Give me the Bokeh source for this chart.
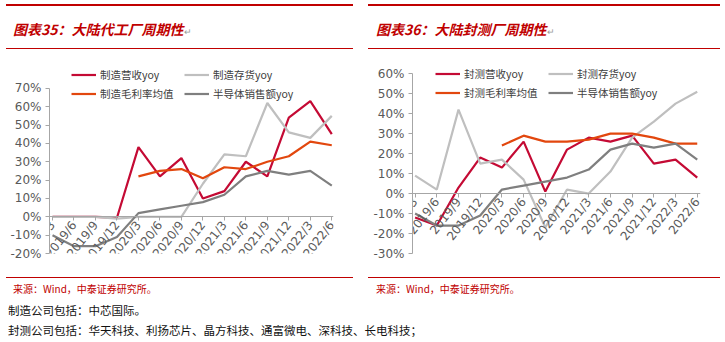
import math
from bokeh.plotting import figure
from bokeh.models import (Range1d, FixedTicker, PrintfTickFormatter, Legend,
                          LegendItem, Div, ColumnDataSource)
from bokeh.layouts import column, row
from bokeh.embed import file_html
from bokeh.resources import INLINE

NAN = float("nan")

quarters = ["2019/3", "2019/6", "2019/9", "2019/12", "2020/3", "2020/6", "2020/9",
            "2020/12", "2021/3", "2021/6", "2021/9", "2021/12", "2022/3", "2022/6"]

# 图表35 大陆代工厂 (%)
fab_rev = [0, 0, 0, -0.5, 38, 22, 32, 10, 14, 30, 22, 54, 63, 45]
fab_inv = [0, 0, 0, -1, 0, 0, 0, 18, 34, 33, 62, 46, 43, 55]
fab_gm = [NAN, NAN, NAN, NAN, 22, 25, 26, 21, 27, 26, 30, 33, 41, 39]
semi_sales = [-10, -16, -16, -11, 2, 4, 6, 8, 12, 22, 25, 23, 25, 17]

# 图表36 大陆封测厂 (%)
osat_rev = [-12, -16, 3, 18, 13, 26, 1, 22, 28, 26, 29, 15, 17, 8]
osat_inv = [9, 2, 42, 15, 17, 7, -17, 2, 0, 11, 28, 36, 45, 51]
osat_gm = [NAN, NAN, NAN, NAN, 24, 29, 26, 26, 27, 30, 30, 28, 25, 25]

fab_labels = ["制造营收yoy", "制造存货yoy", "制造毛利率均值", "半导体销售额yoy"]
osat_labels = ["封测营收yoy", "封测存货yoy", "封测毛利率均值", "半导体销售额yoy"]

left_yticks = [-20, -10, 0, 10, 20, 30, 40, 50, 60, 70]
right_yticks = [-30, -20, -10, 0, 10, 20, 30, 40, 50, 60]

titles = ["图表35：大陆代工厂周期性", "图表36：大陆封测厂周期性"]
source_text = "来源：Wind，中泰证券研究所。"
note1 = "制造公司包括：中芯国际。"
note2 = "封测公司包括：华天科技、利扬芯片、晶方科技、通富微电、深科技、长电科技；"

COLORS = ["#C40A34", "#BFBFBF", "#E2470E", "#7F7F7F"]
AXIS_C = "#A6A6A6"
LABEL_C = "#595959"


def make_chart(width, height, borders, xr, yr, yticks, series, labels, legend_loc):
    bl, bt, br, bb = borders
    p = figure(width=width, height=height, output_backend="svg", toolbar_location=None,
               x_range=Range1d(*xr), y_range=Range1d(*yr),
               min_border_left=bl, min_border_top=bt, min_border_right=br,
               min_border_bottom=bb)
    p.outline_line_color = None
    p.grid.visible = False
    p.background_fill_color = None
    p.border_fill_color = None

    x = list(range(len(quarters)))
    data = {"x": x}
    for i, s in enumerate(series):
        data[f"s{i}"] = s
    src = ColumnDataSource(data)
    rends = []
    for i in range(len(series)):
        r = p.line("x", f"s{i}", source=src, line_color=COLORS[i], line_width=2.2)
        rends.append(r)

    ya = p.yaxis[0]
    ya.ticker = FixedTicker(ticks=yticks)
    ya.bounds = (yticks[0], yticks[-1])
    ya.formatter = PrintfTickFormatter(format="%d%%")
    ya.major_label_text_font = "DejaVu Sans"
    ya.major_label_text_font_size = "12px"
    ya.major_label_text_color = LABEL_C
    ya.axis_line_color = AXIS_C
    ya.major_tick_line_color = AXIS_C
    ya.major_tick_out = 4
    ya.major_tick_in = 0
    ya.minor_tick_out = 0
    ya.minor_tick_in = 0
    ya.major_label_standoff = 4

    xa = p.xaxis[0]
    xa.ticker = FixedTicker(ticks=x)
    xa.major_label_overrides = {i: q for i, q in enumerate(quarters)}
    xa.fixed_location = 0
    xa.major_label_orientation = math.radians(52)
    xa.major_label_text_font = "DejaVu Sans"
    xa.major_label_text_font_size = "12px"
    xa.major_label_text_color = LABEL_C
    xa.axis_line_color = AXIS_C
    xa.major_tick_line_color = AXIS_C
    xa.major_tick_out = 4
    xa.major_tick_in = 0
    xa.minor_tick_out = 0
    xa.minor_tick_in = 0
    xa.major_label_standoff = 2

    # legend is filled column by column: (0,2) top row, (1,3) bottom row
    order = [0, 2, 1, 3]
    items = [LegendItem(label=labels[i], renderers=[rends[i]]) for i in order]
    legend = Legend(items=items, location=legend_loc, ncols=2,
                    glyph_width=25, glyph_height=19, label_standoff=4,
                    label_width=84, label_height=19, spacing=0, padding=0, margin=0,
                    border_line_color=None, background_fill_alpha=0,
                    label_text_font="Noto Sans CJK SC", label_text_font_size="10.5px",
                    label_text_color="#404040")
    p.add_layout(legend)
    return p


left = make_chart(362, 222, (49, 10, 29, 24), (-0.14, 13.08), (-20, 81.9), left_yticks,
                  [fab_rev, fab_inv, fab_gm, semi_sales], fab_labels, (22, 150))
right = make_chart(363, 222, (50, 11, 25, 20), (-0.12, 13.15), (-30, 63.6), right_yticks,
                   [osat_rev, osat_inv, osat_gm, semi_sales], osat_labels, (23, 151))

FONT = "'Noto Sans CJK SC', sans-serif"


def title_div(text, w, l0, l1, tx):
    html = (f'<div style="position:relative;width:{w}px;height:55px;font-family:{FONT};">'
            f'<div style="position:absolute;left:{l0}px;top:4px;width:{l1 - l0}px;height:2px;background:#C00000;"></div>'
            f'<div style="position:absolute;left:{tx}px;top:19px;font-size:14px;line-height:20px;'
            f'font-weight:bold;font-style:italic;color:#C00000;white-space:nowrap;">{text}'
            f'<span style="font-size:9px;font-weight:normal;font-style:normal;color:#999999;">↵</span></div>'
            f'<div style="position:absolute;left:{l0}px;top:48px;width:{l1 - l0}px;height:1px;background:#C00000;"></div>'
            '</div>')
    return Div(text=html, width=w, height=55, margin=0)


def source_div(w, l0, l1, tx):
    html = (f'<div style="position:relative;width:{w}px;height:22px;font-family:{FONT};">'
            f'<div style="position:absolute;left:{l0}px;top:0px;width:{l1 - l0}px;height:1px;background:#C00000;"></div>'
            f'<div style="position:absolute;left:{tx}px;top:4px;font-size:10px;line-height:16px;'
            f'color:#C00000;white-space:nowrap;">{source_text}</div>'
            '</div>')
    return Div(text=html, width=w, height=22, margin=0)


def note_div(text, h, top):
    html = (f'<div style="position:relative;width:725px;height:{h}px;font-family:{FONT};">'
            f'<div style="position:absolute;left:8px;top:{top}px;font-size:11.5px;line-height:16px;'
            f'color:#111111;white-space:nowrap;">{text}</div></div>')
    return Div(text=html, width=725, height=h, margin=0)


page = column(
    row(title_div(titles[0], 362, 6, 353, 13), title_div(titles[1], 363, 6, 358, 14), spacing=0),
    row(left, right, spacing=0),
    row(source_div(362, 6, 353, 13), source_div(363, 6, 358, 14), spacing=0),
    note_div(note1, 21, 3),
    note_div(note2, 22, 2),
    spacing=0,
)

open("out.html", "w").write(file_html(page, INLINE))
